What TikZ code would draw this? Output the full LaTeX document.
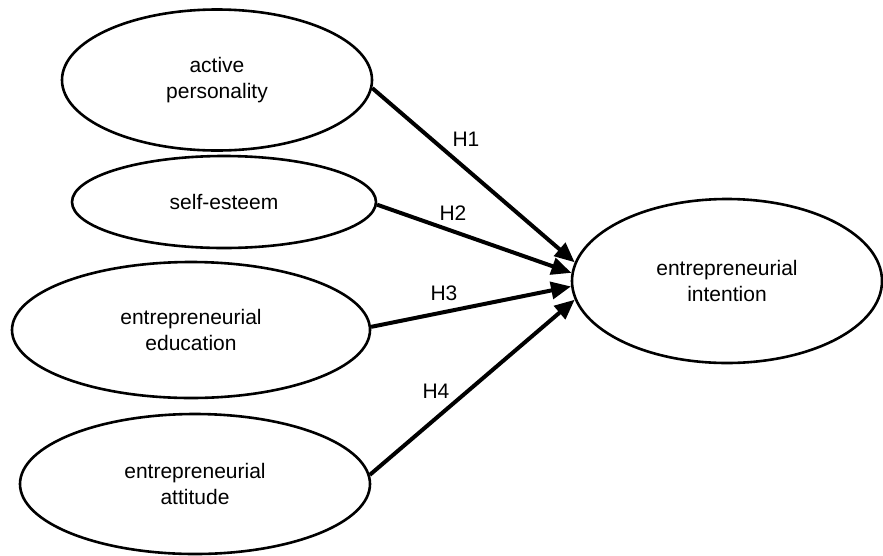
\documentclass[tikz,border=0pt]{standalone}
\usepackage{fontspec}
\setmainfont{Liberation Sans}
\usetikzlibrary{shapes.geometric,arrows.meta}
\begin{document}
\begin{tikzpicture}[x=1pt,y=-1pt,
  latent/.style={draw=black,line width=2.6pt,ellipse,inner sep=0pt,align=center,
    font=\fontsize{21}{26.3}\selectfont},
  path/.style={line width=4pt,-{Triangle[length=20pt,width=17pt]}},
  hlabel/.style={font=\fontsize{21}{26}\selectfont}]
\useasboundingbox (0,0) rectangle (883,555);
\node[latent,minimum width=310pt,minimum height=141pt] (ap) at (217,80) {active\\personality};
\node[latent,minimum width=304pt,minimum height=92pt] (se) at (224,202) {self-esteem};
\node[latent,minimum width=358pt,minimum height=136pt] (ee) at (191,330) {entrepreneurial\\education};
\node[latent,minimum width=350pt,minimum height=140pt] (ea) at (195,484) {entrepreneurial\\attitude};
\node[latent,minimum width=310pt,minimum height=164pt] (ei) at (727,281) {entrepreneurial\\intention};
\draw[path] (ap.-3) -- (ei.173.7);
\draw[path] (se.-1) -- (ei.177);
\draw[path] (ee.1.6) -- (ei.182.6);
\draw[path] (ea.3) -- (ei.187.4);
\node[hlabel] (h1) at (466,139) {H1};
\node[hlabel] (h2) at (453,213) {H2};
\node[hlabel] (h3) at (444,293) {H3};
\node[hlabel] (h4) at (436,391) {H4};
\end{tikzpicture}
\end{document}
